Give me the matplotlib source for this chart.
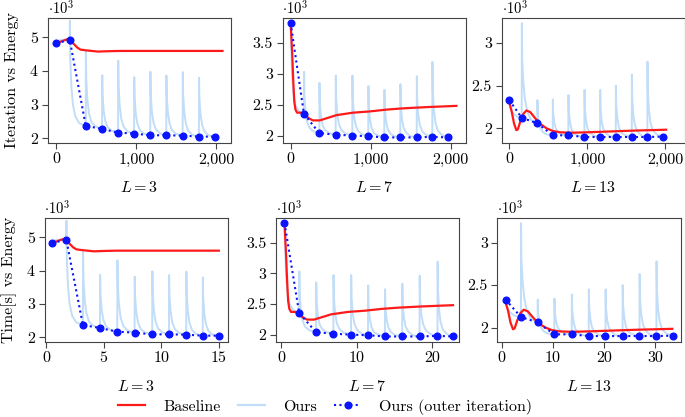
import numpy as np
import matplotlib.pyplot as plt
from matplotlib.lines import Line2D
from matplotlib.ticker import FixedLocator, FuncFormatter

plt.rcParams.update({
    "font.family": "cmr10",
    "mathtext.fontset": "cm",
    "axes.formatter.use_mathtext": True,
    "font.size": 11.5,
    "axes.linewidth": 0.8,
    "axes.edgecolor": "#444444",
    "xtick.direction": "out",
    "ytick.direction": "out",
    "xtick.major.size": 4,
    "ytick.major.size": 4,
    "xtick.major.width": 0.8,
    "ytick.major.width": 0.8,
    "xtick.color": "#444444",
    "ytick.color": "#444444",
    "xtick.labelcolor": "black",
    "ytick.labelcolor": "black",
})

# energies in units of 10^3
# fraction of the way through one outer iteration, shared by every segment
ours_frac = [0.0, 0.01, 0.03, 0.1, 0.2, 0.35, 0.6, 1.0]

# ---- L = 3 ----
l3_outer_iter = [0, 166, 366, 570, 770, 970, 1172, 1372, 1577, 1780, 1985]
l3_outer_time = [0.55, 1.77, 3.21, 4.69, 6.19, 7.69, 9.22, 10.67, 12.17, 13.6, 15.0]
l3_outer_energy = [4.83, 4.93, 2.37, 2.28, 2.17, 2.14, 2.09, 2.09, 2.08, 2.05, 2.05]
l3_ours_segments = [
    [4.83, 4.84, 4.85, 4.88, 4.91, 4.93, 4.93, 4.93],
    [4.93, 5.50, 4.40, 3.55, 3.00, 2.65, 2.45, 2.37],
    [2.37, 4.58, 3.78, 3.15, 2.74, 2.48, 2.35, 2.28],
    [2.28, 3.88, 3.30, 2.82, 2.52, 2.33, 2.22, 2.17],
    [2.17, 4.31, 3.55, 2.98, 2.58, 2.34, 2.20, 2.14],
    [2.14, 3.82, 3.22, 2.75, 2.44, 2.25, 2.14, 2.09],
    [2.09, 3.98, 3.32, 2.81, 2.47, 2.27, 2.15, 2.09],
    [2.09, 3.87, 3.25, 2.77, 2.44, 2.24, 2.13, 2.08],
    [2.08, 3.97, 3.30, 2.78, 2.43, 2.22, 2.10, 2.05],
    [2.05, 3.80, 3.19, 2.71, 2.39, 2.20, 2.08, 2.05],
]
l3_base_iter = [0, 60, 125, 175, 220, 260, 300, 360, 440, 520, 620, 800, 1200, 1600, 2075]
l3_base_time = [0.55, 0.97, 1.42, 1.77, 2.08, 2.36, 2.64, 3.06, 3.61, 4.17, 4.87, 6.12, 8.91, 11.69, 15.0]
l3_base_energy = [4.83, 4.88, 4.94, 4.90, 4.80, 4.70, 4.64, 4.62, 4.60, 4.58, 4.59, 4.60, 4.60, 4.60, 4.60]

# ---- L = 7 ----
l7_outer_iter = [0, 166, 358, 562, 770, 970, 1170, 1370, 1575, 1770, 1970]
l7_outer_time = [0.47, 2.41, 4.64, 6.92, 9.25, 11.49, 13.72, 16.0, 18.29, 20.66, 22.71]
l7_outer_energy = [3.82, 2.35, 2.04, 2.015, 2.0, 1.99, 1.97, 1.97, 1.97, 1.98, 1.97]
l7_ours_segments = [
    [3.82, 3.82, 3.50, 3.00, 2.70, 2.50, 2.40, 2.35],
    [2.35, 3.03, 2.65, 2.40, 2.23, 2.13, 2.07, 2.04],
    [2.04, 2.85, 2.53, 2.32, 2.17, 2.09, 2.04, 2.015],
    [2.015, 2.97, 2.60, 2.35, 2.18, 2.09, 2.03, 2.0],
    [2.0, 2.97, 2.60, 2.34, 2.18, 2.08, 2.02, 1.99],
    [1.99, 2.80, 2.48, 2.27, 2.13, 2.04, 2.0, 1.97],
    [1.97, 2.74, 2.45, 2.25, 2.12, 2.04, 1.99, 1.97],
    [1.97, 2.83, 2.50, 2.28, 2.13, 2.05, 1.99, 1.97],
    [1.97, 2.96, 2.59, 2.33, 2.17, 2.07, 2.01, 1.98],
    [1.98, 3.19, 2.73, 2.41, 2.20, 2.08, 2.01, 1.97],
]
l7_base_iter = [0, 20, 33, 45, 60, 80, 133, 196, 240, 279, 363, 450, 571, 779, 988, 1200, 1404, 1700, 2071]
l7_base_time = [0.47, 0.68, 0.82, 0.95, 1.11, 1.33, 1.9, 2.58, 3.05, 3.47, 4.37, 5.3, 6.6, 8.84, 11.08, 13.36, 15.55, 18.73, 22.71]
l7_base_energy = [3.82, 3.30, 2.87, 2.55, 2.42, 2.37, 2.37, 2.31, 2.27, 2.245, 2.245, 2.28, 2.33, 2.37, 2.39, 2.42, 2.44, 2.46, 2.48]

# ---- L = 13 ----
l13_outer_iter = [0, 159, 359, 556, 756, 962, 1163, 1364, 1569, 1769, 1967]
l13_outer_time = [0.78, 3.78, 7.04, 10.29, 13.69, 17.0, 20.27, 23.6, 26.9, 30.2, 33.4]
l13_outer_energy = [2.33, 2.125, 2.06, 1.92, 1.92, 1.90, 1.90, 1.90, 1.90, 1.90, 1.905]
l13_ours_segments = [
    [2.33, 2.33, 2.30, 2.25, 2.20, 2.17, 2.14, 2.125],
    [2.125, 3.23, 2.80, 2.55, 2.35, 2.20, 2.10, 2.06],
    [2.06, 2.33, 2.17, 2.07, 2.00, 1.96, 1.93, 1.92],
    [1.92, 2.34, 2.18, 2.07, 2.00, 1.96, 1.93, 1.92],
    [1.92, 2.39, 2.20, 2.08, 1.99, 1.94, 1.915, 1.90],
    [1.90, 2.45, 2.24, 2.10, 2.00, 1.95, 1.915, 1.90],
    [1.90, 2.45, 2.23, 2.09, 2.00, 1.95, 1.91, 1.90],
    [1.90, 2.50, 2.27, 2.12, 2.01, 1.95, 1.92, 1.90],
    [1.90, 2.63, 2.35, 2.16, 2.04, 1.97, 1.92, 1.90],
    [1.90, 2.78, 2.45, 2.22, 2.07, 1.98, 1.93, 1.905],
]
l13_base_iter = [0, 30, 60, 90, 110, 140, 180, 220, 270, 330, 400, 480, 560, 650, 800, 1000, 1300, 1600, 2010]
l13_base_time = [0.78, 1.27, 1.75, 2.24, 2.56, 3.05, 3.69, 4.34, 5.15, 6.12, 7.25, 8.55, 9.84, 11.3, 13.72, 16.96, 21.81, 26.67, 33.3]
l13_base_energy = [2.30, 2.20, 2.06, 1.98, 1.99, 2.08, 2.17, 2.21, 2.19, 2.12, 2.05, 2.00, 1.97, 1.955, 1.95, 1.955, 1.965, 1.975, 1.985]

RED = "#ff1a1a"
LIGHT = "#c2ddf7"
BLUE = "#0a14ff"


def ours_curve(outer_x, segments):
    xs, ys = [], []
    for k, seg in enumerate(segments):
        x0, x1 = outer_x[k], outer_x[k + 1]
        for f, e in zip(ours_frac, seg):
            xs.append(x0 + f * (x1 - x0))
            ys.append(e)
    return np.array(xs), np.array(ys)


def thousands(v, _pos):
    return f"{v:,.0f}"


def plain(v, _pos):
    return f"{v:g}"


fig = plt.figure(figsize=(6.85, 4.17), dpi=100)
W, H = 685, 417


def add_ax(left, top, width, height):
    return fig.add_axes([left / W, 1 - (top + height) / H, width / W, height / H])


panels = [
    # (L, outer iters, outer times, outer energies, segments, base iter, base time, base energy,
    #  ylim, yticks, iter xlim, time xlim, time ticks)
    (3, l3_outer_iter, l3_outer_time, l3_outer_energy, l3_ours_segments,
     l3_base_iter, l3_base_time, l3_base_energy,
     (1.86, 5.58), [2, 3, 4, 5], (-112, 2175), (-0.12, 15.75), [0, 5, 10, 15]),
    (7, l7_outer_iter, l7_outer_time, l7_outer_energy, l7_ours_segments,
     l7_base_iter, l7_base_time, l7_base_energy,
     (1.88, 3.90), [2, 2.5, 3, 3.5], (-102, 2185), (-0.65, 23.5), [0, 10, 20]),
    (13, l13_outer_iter, l13_outer_time, l13_outer_energy, l13_ours_segments,
     l13_base_iter, l13_base_time, l13_base_energy,
     (1.83, 3.29), [2, 2.5, 3], (-100, 2245), (-0.78, 34.9), [0, 10, 20, 30]),
]

top_lefts = [47.5, 282.5, 501.5]
bot_lefts = [44.5, 276, 497.5]

for col, p in enumerate(panels):
    (L, o_it, o_t, o_e, segs, b_it, b_t, b_e, ylim, yticks, xlim_it, xlim_t, tticks) = p
    for row in range(2):
        if row == 0:
            ax = add_ax(top_lefts[col], 18, 183, 125)
            ox, bx, xlim = o_it, b_it, xlim_it
        else:
            ax = add_ax(bot_lefts[col], 218, 183, 124)
            ox, bx, xlim = o_t, b_t, xlim_t
        lx, ly = ours_curve(ox, segs)
        ax.plot(lx, ly, color=LIGHT, lw=1.4, zorder=1)
        ax.plot(bx, b_e, color=RED, lw=1.6, zorder=2)
        ax.plot(ox, o_e, color=BLUE, lw=1.5, ls=(0, (1, 1.6)), marker="o",
                ms=4.8, zorder=3)
        ax.set_xlim(*xlim)
        ax.set_ylim(*ylim)
        ax.yaxis.set_major_locator(FixedLocator(yticks))
        ax.yaxis.set_major_formatter(FuncFormatter(plain))
        if row == 0:
            ax.xaxis.set_major_locator(FixedLocator([0, 1000, 2000]))
            ax.xaxis.set_major_formatter(FuncFormatter(thousands))
        else:
            ax.xaxis.set_major_locator(FixedLocator(tticks))
            ax.xaxis.set_major_formatter(FuncFormatter(plain))
        ax.tick_params(top=False, right=False, pad=3)
        ax.text(0.0, 1.0 + 4 / 125, r"$\cdot 10^{3}$", transform=ax.transAxes,
                ha="left", va="baseline", fontsize=10.5)
        ax.text(0.5, -0.36 if row == 0 else -0.355, rf"$L = {L}$",
                transform=ax.transAxes, ha="center", va="center")
        if col == 0:
            ax.set_ylabel("Iteration vs Energy" if row == 0 else "Time[s] vs Energy")
            ax.yaxis.set_label_coords(-0.158 if row == 0 else -0.15, 0.5)

handles = [
    Line2D([], [], color=RED, lw=1.6),
    Line2D([], [], color=LIGHT, lw=1.6),
    Line2D([], [], color=BLUE, lw=1.5, ls=(0, (1, 1.6)), marker="o", ms=4.8),
]
fig.legend(handles, ["Baseline", "Ours", "Ours (outer iteration)"],
           loc="center", bbox_to_anchor=(325 / W, 1 - 407 / H), ncol=3,
           frameon=False, handlelength=1.7, columnspacing=1.1, handletextpad=1.1)

fig.savefig("out.png", dpi=100)
